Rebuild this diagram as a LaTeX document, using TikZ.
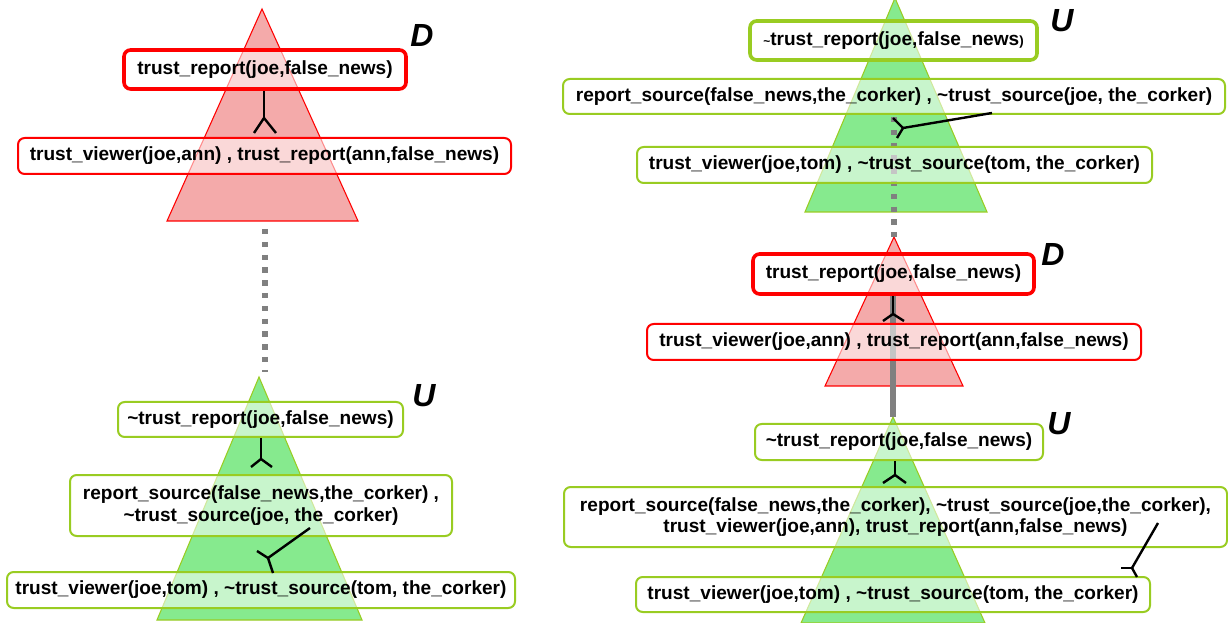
\documentclass[tikz,border=0pt]{standalone}
\usepackage{fontspec}
\setmainfont{Liberation Sans}
\definecolor{boxred}{HTML}{FF0000}
\definecolor{boxgreen}{HTML}{99CC22}
\definecolor{redfill}{HTML}{F4AAAA}
\definecolor{greenfill}{HTML}{86EA8E}
\definecolor{greenedge}{HTML}{99CC22}
\definecolor{linegray}{HTML}{808080}
\newcommand\bxfont{\fontsize{14.3}{16}\selectfont\bfseries}
\newcommand\lblfont{\fontsize{24}{24}\selectfont\bfseries\itshape}
\newcommand\tl{\textasciitilde}
\newcommand\smtl{{\fontsize{9}{9}\selectfont\textasciitilde}}
\newcommand\smpar{{\fontsize{10}{10}\selectfont)}}
\newcommand\boxnode[7]{\node[#1, minimum width={(#5-#3)*0.75pt}, minimum height={(#6-#4)*0.75pt}] (#2) at ({(#3+#5)/2},{(#4+#6)/2}) {#7};}
\begin{document}
\begin{tikzpicture}[x=0.75pt,y=-0.75pt,
  box/.style={draw, rounded corners=5pt, fill=white, fill opacity=0.55, text opacity=1, draw opacity=1, inner sep=0pt, align=center, font=\bxfont},
  thinred/.style={box, draw=boxred, line width=1.5pt},
  thickred/.style={box, draw=boxred, line width=2.7pt},
  thingreen/.style={box, draw=boxgreen, line width=1.5pt},
  thickgreen/.style={box, draw=boxgreen, line width=2.7pt},
  redtri/.style={fill=redfill},
  greentri/.style={fill=greenfill},
  rededge/.style={draw=boxred, line width=0.8pt},
  greenline/.style={draw=greenedge, line width=0.8pt},
  lbl/.style={font=\lblfont, inner sep=0pt},
  conn/.style={draw=black, line width=1.8pt},
  grayline/.style={draw=linegray, line width=4.5pt},
  graydash/.style={grayline, dash pattern=on 4.1pt off 5.5pt}
]
\useasboundingbox (0,0) rectangle (1228,623);

% ---------- triangles ----------
\fill[redtri] (262,9) -- (358,221) -- (167,221) -- cycle;
\fill[greentri] (259,377) -- (362,620) -- (157,620) -- cycle;
\fill[greentri] (895,-2) -- (987,212) -- (805,212) -- cycle;
\fill[redtri] (894,237) -- (963,386) -- (825,386) -- cycle;
\fill[greentri] (893,417) -- (985,623) -- (801,623) -- cycle;
\draw[rededge] (262,9) -- (358,221) -- (167,221) -- cycle;
\draw[greenline] (259,377) -- (362,620) -- (157,620) -- cycle;
\draw[greenline] (895,-2) -- (987,212) -- (805,212) -- cycle;
\draw[rededge] (894,237) -- (963,386) -- (825,386) -- cycle;
\draw[greenline] (893,417) -- (985,623) -- (801,623) -- cycle;

% ---------- gray links between trees ----------
\coordinate (gA1) at (264.5,229);
\coordinate (gA2) at (264.5,372);
\draw[graydash] (gA1) -- (gA2);
\coordinate (gB1) at (894,117);
\coordinate (gB2) at (894,237);
\draw[graydash] (gB1) -- (gB2);
\coordinate (gC1) at (893,292);
\coordinate (gC2) at (893,417);
\draw[grayline] (gC1) -- (gC2);

% ---------- boxes: left ----------
\boxnode{thickred}{L1}{124}{50}{406}{89}{trust\_report(joe,false\_news)}
\boxnode{thinred}{L2}{18}{138}{511}{174}{trust\_viewer(joe,ann) , trust\_report(ann,false\_news)}
\boxnode{thingreen}{LB1}{118}{402}{403}{437}{\tl trust\_report(joe,false\_news)}
\boxnode{thingreen}{LB2}{70}{475}{452}{536}{report\_source(false\_news,the\_corker) ,\\ \tl trust\_source(joe, the\_corker)}
\boxnode{thingreen}{LB3}{7}{572}{515}{608}{trust\_viewer(joe,tom) , \tl trust\_source(tom, the\_corker)}

% ---------- boxes: right ----------
\boxnode{thickgreen}{RT1}{750}{21}{1037}{60}{\smtl trust\_report(joe,false\_news\smpar}
\boxnode{thingreen}{RT2}{563}{79}{1225}{114}{report\_source(false\_news,the\_corker) , \tl trust\_source(joe, the\_corker)}
\boxnode{thingreen}{RT3}{637}{147}{1152}{183}{trust\_viewer(joe,tom) , \tl trust\_source(tom, the\_corker)}
\boxnode{thickred}{RD1}{753}{254}{1034}{294}{trust\_report(joe,false\_news)}
\boxnode{thinred}{RD2}{647}{324}{1141}{360}{trust\_viewer(joe,ann) , trust\_report(ann,false\_news)}
\boxnode{thingreen}{RU1}{755}{424}{1043}{460}{\tl trust\_report(joe,false\_news)}
\boxnode{thingreen}{RU2}{564}{487}{1227}{547}{report\_source(false\_news,the\_corker), \tl trust\_source(joe,the\_corker),\\ trust\_viewer(joe,ann), trust\_report(ann,false\_news)}
\boxnode{thingreen}{RU3}{636}{577}{1150}{612}{trust\_viewer(joe,tom) , \tl trust\_source(tom, the\_corker)}

% ---------- labels ----------
\node[lbl] (dL) at (422,35) {D};
\node[lbl] (uL) at (424,396) {U};
\node[lbl] (uRT) at (1062,21) {U};
\node[lbl] (dR) at (1053,254) {D};
\node[lbl] (uRB) at (1059,424) {U};

% ---------- connectors (forks) ----------
% left D tree
\coordinate (jA) at (264,118);
\draw[conn] (L1.south -| jA) -- (jA);
\draw[conn] (jA) -- (254,133);
\draw[conn] (jA) -- (276,133);
% left U tree
\coordinate (jB) at (261,459);
\draw[conn] (LB1.south -| jB) -- (jB);
\draw[conn] (jB) -- (251,467);
\draw[conn] (jB) -- (272,467);
\coordinate (sC) at (310,528);
\coordinate (jC) at (268,558);
\draw[conn] (sC) -- (jC);
\draw[conn] (jC) -- (257,551);
\draw[conn] (jC) -- (273,573);
% right top U tree
\coordinate (sD) at (992,113);
\coordinate (jD) at (903,128);
\draw[conn] (sD) -- (jD);
\draw[conn] (jD) -- (893,118);
\draw[conn] (jD) -- (897,138);
% right D tree
\coordinate (jE) at (893,314);
\draw[conn] (RD1.south -| jE) -- (jE);
\draw[conn] (jE) -- (883,321);
\draw[conn] (jE) -- (904,321);
% right bottom U tree
\coordinate (jF) at (895,475);
\draw[conn] (RU1.south -| jF) -- (jF);
\draw[conn] (jF) -- (883,483);
\draw[conn] (jF) -- (906,483);
\coordinate (sG) at (1158,523);
\coordinate (jG) at (1132,568);
\draw[conn] (sG) -- (jG);
\draw[conn] (jG) -- (1121,568);
\draw[conn] (jG) -- (1137,577);
\end{tikzpicture}
\end{document}
